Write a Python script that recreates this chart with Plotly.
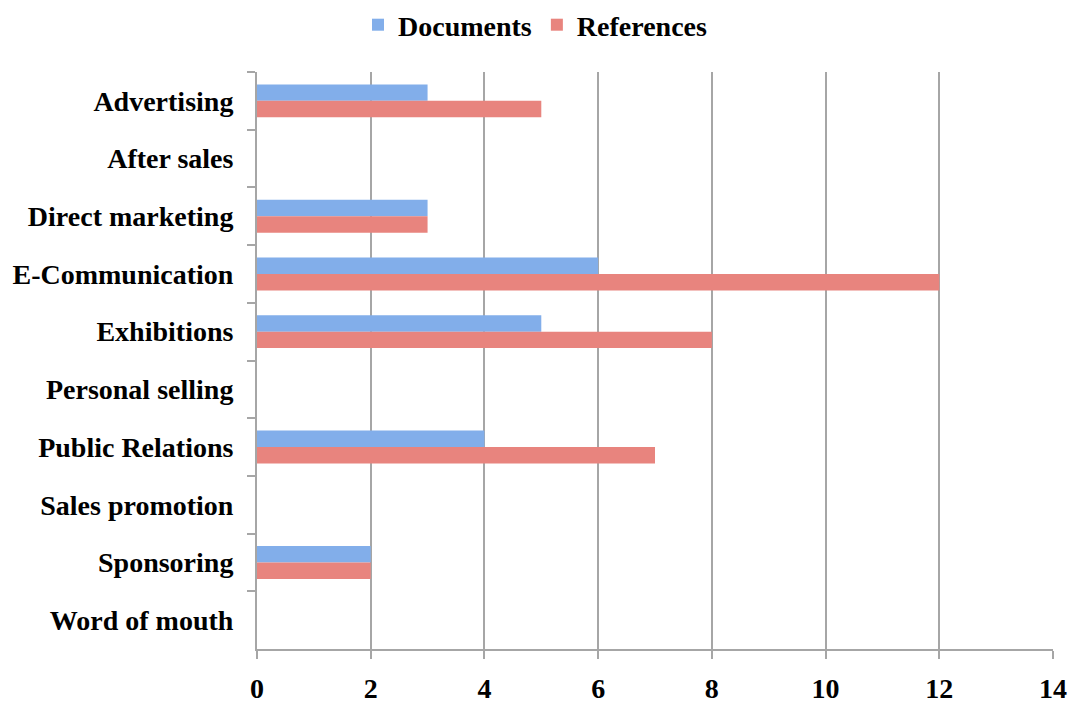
import plotly.graph_objects as go

categories = [
    "Advertising", "After sales", "Direct marketing", "E-Communication",
    "Exhibitions", "Personal selling", "Public Relations", "Sales promotion",
    "Sponsoring", "Word of mouth",
]
documents = [3, 0, 3, 6, 5, 0, 4, 0, 2, 0]
references = [5, 0, 3, 12, 8, 0, 7, 0, 2, 0]
x_ticks = [0, 2, 4, 6, 8, 10, 12, 14]

FONT = "Liberation Serif"
GRID = "#a6a6a6"
FS = 28

fig = go.Figure()
fig.add_trace(go.Bar(y=categories, x=documents, name="Documents", orientation="h",
                     marker=dict(color="#82aeea", line=dict(width=0))))
fig.add_trace(go.Bar(y=categories, x=references, name="References", orientation="h",
                     marker=dict(color="#e8847e", line=dict(width=0))))

fig.update_layout(
    width=1071, height=704,
    margin=dict(l=257, r=18, t=72, b=55),
    paper_bgcolor="white", plot_bgcolor="white",
    barmode="group", bargap=0.43, bargroupgap=0,
    font=dict(family=FONT, size=FS, color="black", weight="bold"),
    legend=dict(orientation="h", x=0.5, xanchor="center", xref="container",
                y=1.0, yanchor="top", yref="container",
                font=dict(size=FS, family=FONT, weight="bold"),
                traceorder="normal", itemwidth=30),
    xaxis=dict(range=[0, 14], tickvals=x_ticks, showgrid=True, gridcolor=GRID,
               gridwidth=2, showline=True, linecolor=GRID, linewidth=2,
               ticks="outside", ticklen=8, tickcolor=GRID, tickwidth=2,
               zeroline=False, ticklabelstandoff=5, automargin=False,
               tickfont=dict(size=FS, family=FONT, weight="bold")),
    yaxis=dict(autorange="reversed", showline=True, linecolor=GRID, linewidth=2,
               ticks="outside", ticklen=8, tickcolor=GRID, tickwidth=2,
               tickson="boundaries", showgrid=False, ticklabelstandoff=16,
               automargin=False,
               tickfont=dict(size=FS, family=FONT, weight="bold")),
)

fig.write_html("out.html")
